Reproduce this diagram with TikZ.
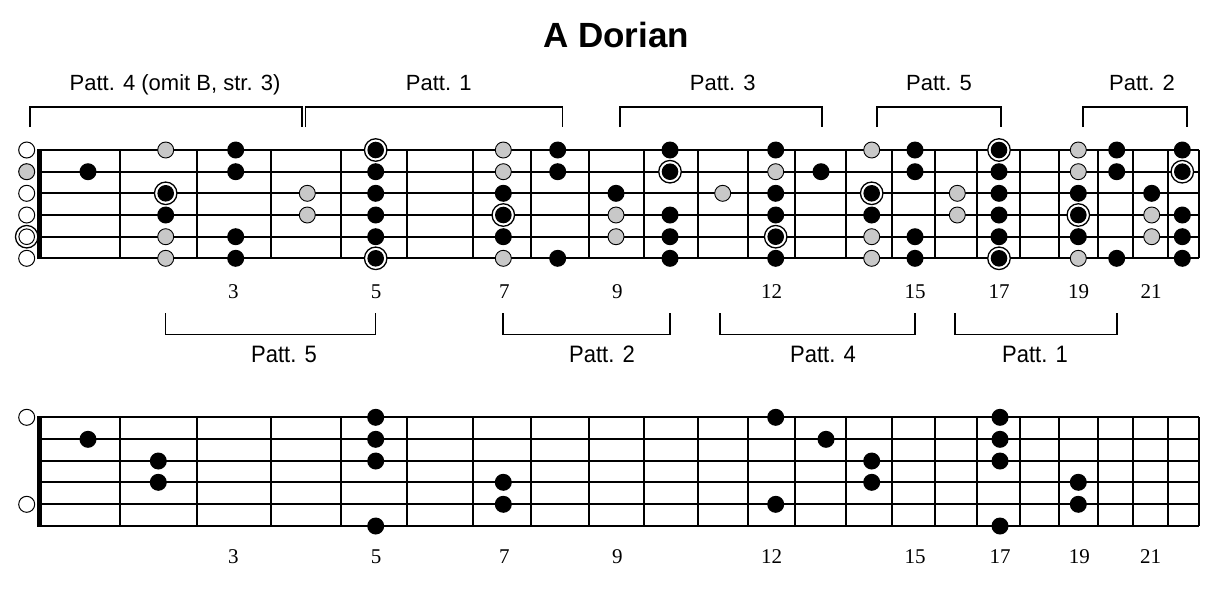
\documentclass[tikz,border=0pt]{standalone}
\usepackage{fontspec}
\setmainfont{Liberation Serif}
\newfontfamily\hv{Liberation Sans}
\definecolor{dotgray}{RGB}{200,200,200}
\tikzset{
  strline/.style={line width=1.7pt},
  fretline/.style={line width=2.2pt},
  brk/.style={line width=1.5pt},
  blk/.style={circle, fill=black, inner sep=0pt, minimum size=17pt},
  gry/.style={circle, fill=dotgray, draw=black, line width=0.9pt, inner sep=0pt, minimum size=16pt},
  rt/.style={circle, fill=white, draw=black, line width=1.3pt, inner sep=0pt, minimum size=22.5pt,
    path picture={\fill[black] (path picture bounding box.center) circle (8.3pt);}},
  opn/.style={circle, fill=white, draw=black, line width=1pt, inner sep=0pt, minimum size=16pt},
  opg/.style={circle, fill=dotgray, draw=black, line width=1pt, inner sep=0pt, minimum size=16pt},
  opr/.style={circle, fill=white, draw=black, line width=1.3pt, inner sep=0pt, minimum size=22.5pt,
    path picture={\draw[line width=1pt] (path picture bounding box.center) circle (7.8pt);}},
  plab/.style={font=\hv\fontsize{22}{22}\selectfont, anchor=base, inner sep=0pt},
  blab/.style={font=\hv\fontsize{22}{22}\selectfont, anchor=base, inner sep=0pt, yscale=1.08},
  fnum/.style={font=\fontsize{21}{21}\selectfont, anchor=base, inner sep=0pt},
  ttl/.style={font=\hv\bfseries\fontsize{35}{35}\selectfont, anchor=base, inner sep=0pt}
}
\begin{document}
\begin{tikzpicture}[x=1pt,y=-1pt]
\useasboundingbox[fill=white] (0,0) rectangle (1217,590);
\def\TX{{26.7,88,165.7,235.7,307.3,375.7,440,503.3,557.7,616,670,722.7,775.7,821,871.7,915,957.3,999,1040,1078.3,1116.7,1151.7,1182.3}}
\def\BX{{26.7,88,158.3,235.7,307.3,375.7,440,503.3,557.7,616,670,722.7,775.7,826,871.7,915,957.3,1000,1040,1078.3,1116.7,1151.7,1182.3}}
\def\TY{{0,150,171.7,193.3,215,236.7,258.3}}
\def\BY{{0,417.3,439.3,461,482.3,504.3,526}}
\def\FRETS{120,196.7,270.7,340.7,407.3,472.7,530.7,589,644.3,697.7,748.3,795,845.7,892.3,935,976.7,1020,1059.3,1098.3,1133.3,1168.3,1199}

% title
\node[ttl] (title) at (616,47) {A Dorian};

% ---------- top fretboard ----------
\foreach \s in {1,...,6}{
  \pgfmathsetmacro\yy{\TY[\s]}
  \draw[strline] (40,\yy) -- (1199,\yy);
}
\foreach \x in \FRETS { \draw[fretline] (\x,150) -- (\x,258.3); }
\fill (37,149) rectangle (42,259.3);

\foreach \f/\s/\t in {0/1/opn,0/2/opg,0/3/opn,0/4/opn,0/5/opr,0/6/opn,
  1/2/blk,
  2/1/gry,2/3/rt,2/4/blk,2/5/gry,2/6/gry,
  3/1/blk,3/2/blk,3/5/blk,3/6/blk,
  4/3/gry,4/4/gry,
  5/1/rt,5/2/blk,5/3/blk,5/4/blk,5/5/blk,5/6/rt,
  7/1/gry,7/2/gry,7/3/blk,7/4/rt,7/5/blk,7/6/gry,
  8/1/blk,8/2/blk,8/6/blk,
  9/3/blk,9/4/gry,9/5/gry,
  10/1/blk,10/2/rt,10/4/blk,10/5/blk,10/6/blk,
  11/3/gry,
  12/1/blk,12/2/gry,12/3/blk,12/4/blk,12/5/rt,12/6/blk,
  13/2/blk,
  14/1/gry,14/3/rt,14/4/blk,14/5/gry,14/6/gry,
  15/1/blk,15/2/blk,15/5/blk,15/6/blk,
  16/3/gry,16/4/gry,
  17/1/rt,17/2/blk,17/3/blk,17/4/blk,17/5/blk,17/6/rt,
  19/1/gry,19/2/gry,19/3/blk,19/4/rt,19/5/blk,19/6/gry,
  20/1/blk,20/2/blk,20/6/blk,
  21/3/blk,21/4/gry,21/5/gry,
  22/1/blk,22/2/rt,22/4/blk,22/5/blk,22/6/blk}{
  \pgfmathsetmacro\xx{\TX[\f]}
  \pgfmathsetmacro\yy{\TY[\s]}
  \node[\t] (t\f-\s) at (\xx,\yy) {};
}

\foreach \n/\x in {3/233.3,5/376,7/504.3,9/617.3,12/771.7,15/915,17/999,19/1078.5,21/1151}{
  \node[fnum] (tn\n) at (\x,298.5) {\n};
}

% top brackets
\node[plab] (lt4) at (175,90.7) {Patt. 4 (omit B, str. 3)};
\node[plab] (lt1) at (438.7,90.7) {Patt. 1};
\node[plab] (lt3) at (722.7,90.7) {Patt. 3};
\node[plab] (lt5) at (939,90.7) {Patt. 5};
\node[plab] (lt2) at (1142,90.7) {Patt. 2};
\foreach \a/\b in {30/302,305.3/562.3,620/822,877/1001,1083/1187}{
  \draw[brk] (\a,127) -- (\a,107) -- (\b,107) -- (\b,127);
}

% bottom brackets
\node[blab] (lb5) at (284,362.3) {Patt. 5};
\node[blab] (lb2) at (602,362.3) {Patt. 2};
\node[blab] (lb4) at (823,362.3) {Patt. 4};
\node[blab] (lb1) at (1035,362.3) {Patt. 1};
\foreach \a/\b in {165.7/375.3,503/670,720/915,955/1117}{
  \draw[brk] (\a,313) -- (\a,334.3) -- (\b,334.3) -- (\b,313);
}

% ---------- bottom fretboard ----------
\foreach \s in {1,...,6}{
  \pgfmathsetmacro\yy{\BY[\s]}
  \draw[strline] (40,\yy) -- (1199,\yy);
}
\foreach \x in \FRETS { \draw[fretline] (\x,417.3) -- (\x,526); }
\fill (37,416.3) rectangle (42,527);

\foreach \f/\s/\t in {0/1/opn,0/5/opn,
  1/2/blk, 2/3/blk,2/4/blk,
  5/1/blk,5/2/blk,5/3/blk,5/6/blk,
  7/4/blk,7/5/blk,
  12/1/blk,12/5/blk,
  13/2/blk,
  14/3/blk,14/4/blk,
  17/1/blk,17/2/blk,17/3/blk,17/6/blk,
  19/4/blk,19/5/blk}{
  \pgfmathsetmacro\xx{\BX[\f]}
  \pgfmathsetmacro\yy{\BY[\s]}
  \node[\t] (b\f-\s) at (\xx,\yy) {};
}

\foreach \n/\x in {3/233.3,5/376,7/504.3,9/617.3,12/771.7,15/915,17/1000,19/1079.3,21/1150.7}{
  \node[fnum] (bn\n) at (\x,563.3) {\n};
}
\end{tikzpicture}
\end{document}
